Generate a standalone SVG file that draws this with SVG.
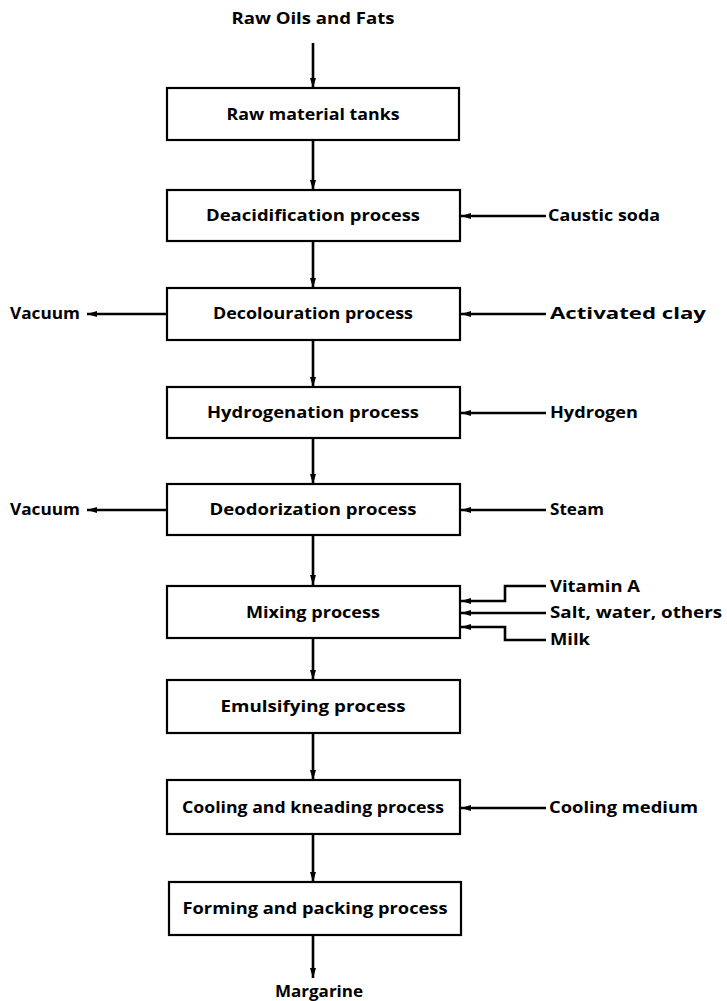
<svg xmlns="http://www.w3.org/2000/svg" width="727" height="1001" viewBox="0 0 727 1001">
<style>
text{font-family:"Open Sans","Liberation Sans",sans-serif;font-weight:700;font-size:16px;fill:#000}
.c{text-anchor:middle}
.box{fill:#fff;stroke:#000;stroke-width:2.2}
.ln{stroke:#000;stroke-width:2.6;fill:none}
</style>
<defs>
<marker id="ah" viewBox="0 0 10 6" refX="10" refY="3" markerWidth="10" markerHeight="6" markerUnits="userSpaceOnUse" orient="auto">
<path d="M0,0 L10,3 L0,6 Z" fill="#000"/>
</marker>
</defs>
<rect width="727" height="1001" fill="#fff"/>
<g id="connectors">
<line class="ln" x1="313" y1="43" x2="313" y2="88" marker-end="url(#ah)"/>
<line class="ln" x1="313" y1="140" x2="313" y2="190" marker-end="url(#ah)"/>
<line class="ln" x1="313" y1="241" x2="313" y2="288" marker-end="url(#ah)"/>
<line class="ln" x1="313" y1="340" x2="313" y2="387" marker-end="url(#ah)"/>
<line class="ln" x1="313" y1="438" x2="313" y2="484" marker-end="url(#ah)"/>
<line class="ln" x1="313" y1="535" x2="313" y2="585" marker-end="url(#ah)"/>
<line class="ln" x1="313" y1="638" x2="313" y2="680" marker-end="url(#ah)"/>
<line class="ln" x1="313" y1="733" x2="313" y2="780" marker-end="url(#ah)"/>
<line class="ln" x1="313" y1="834" x2="313" y2="882" marker-end="url(#ah)"/>
<line class="ln" x1="313" y1="934" x2="313" y2="978" marker-end="url(#ah)"/>
<line class="ln" x1="546" y1="216" x2="461" y2="216" marker-end="url(#ah)"/>
<line class="ln" x1="546" y1="314" x2="461" y2="314" marker-end="url(#ah)"/>
<line class="ln" x1="167" y1="314" x2="87" y2="314" marker-end="url(#ah)"/>
<line class="ln" x1="546" y1="413" x2="461" y2="413" marker-end="url(#ah)"/>
<line class="ln" x1="546" y1="510" x2="461" y2="510" marker-end="url(#ah)"/>
<line class="ln" x1="167" y1="510" x2="87" y2="510" marker-end="url(#ah)"/>
<polyline class="ln" points="546,586 505,586 505,601 461,601" marker-end="url(#ah)"/>
<line class="ln" x1="546" y1="613" x2="461" y2="613" marker-end="url(#ah)"/>
<polyline class="ln" points="546,640 505,640 505,627 461,627" marker-end="url(#ah)"/>
<line class="ln" x1="546" y1="808" x2="461" y2="808" marker-end="url(#ah)"/>
</g>
<g id="n-raw"><text class="c" x="313" y="24" textLength="163" lengthAdjust="spacingAndGlyphs">Raw Oils and Fats</text></g>
<g id="n-tanks"><rect class="box" x="167" y="88" width="292" height="52"/><text class="c" x="313" y="120" textLength="173" lengthAdjust="spacingAndGlyphs">Raw material tanks</text></g>
<g id="n-deacid"><rect class="box" x="167" y="190" width="293" height="51"/><text class="c" x="313" y="221" textLength="214" lengthAdjust="spacingAndGlyphs">Deacidification process</text></g>
<g id="n-caustic"><text x="548" y="221" textLength="112" lengthAdjust="spacingAndGlyphs">Caustic soda</text></g>
<g id="n-decol"><rect class="box" x="167" y="288" width="293" height="52"/><text class="c" x="313" y="319" textLength="200" lengthAdjust="spacingAndGlyphs">Decolouration process</text></g>
<g id="n-vac1"><text x="10" y="319" textLength="70" lengthAdjust="spacingAndGlyphs">Vacuum</text></g>
<g id="n-clay"><text x="550" y="319" textLength="156" lengthAdjust="spacingAndGlyphs">Activated clay</text></g>
<g id="n-hydro"><rect class="box" x="167" y="387" width="293" height="51"/><text class="c" x="313" y="418" textLength="212" lengthAdjust="spacingAndGlyphs">Hydrogenation process</text></g>
<g id="n-h2"><text x="550" y="418" textLength="88" lengthAdjust="spacingAndGlyphs">Hydrogen</text></g>
<g id="n-deodor"><rect class="box" x="167" y="484" width="293" height="51"/><text class="c" x="313" y="515" textLength="207" lengthAdjust="spacingAndGlyphs">Deodorization process</text></g>
<g id="n-vac2"><text x="10" y="515" textLength="70" lengthAdjust="spacingAndGlyphs">Vacuum</text></g>
<g id="n-steam"><text x="550" y="515" textLength="54" lengthAdjust="spacingAndGlyphs">Steam</text></g>
<g id="n-mix"><rect class="box" x="167" y="586" width="293" height="52"/><text class="c" x="313" y="618" textLength="134" lengthAdjust="spacingAndGlyphs">Mixing process</text></g>
<g id="n-vita"><text x="550" y="592" textLength="90" lengthAdjust="spacingAndGlyphs">Vitamin A</text></g>
<g id="n-salt"><text x="550" y="618" textLength="172" lengthAdjust="spacingAndGlyphs">Salt, water, others</text></g>
<g id="n-milk"><text x="550" y="645" textLength="40" lengthAdjust="spacingAndGlyphs">Milk</text></g>
<g id="n-emul"><rect class="box" x="167" y="680" width="293" height="53"/><text class="c" x="313" y="712" textLength="185" lengthAdjust="spacingAndGlyphs">Emulsifying process</text></g>
<g id="n-cool"><rect class="box" x="167" y="780" width="293" height="54"/><text class="c" x="313" y="813" textLength="262" lengthAdjust="spacingAndGlyphs">Cooling and kneading process</text></g>
<g id="n-coolmed"><text x="549" y="813" textLength="149" lengthAdjust="spacingAndGlyphs">Cooling medium</text></g>
<g id="n-form"><rect class="box" x="169" y="882" width="292" height="53"/><text class="c" x="315" y="914" textLength="265" lengthAdjust="spacingAndGlyphs">Forming and packing process</text></g>
<g id="n-marg"><text class="c" x="319" y="997" textLength="88" lengthAdjust="spacingAndGlyphs">Margarine</text></g>
</svg>
